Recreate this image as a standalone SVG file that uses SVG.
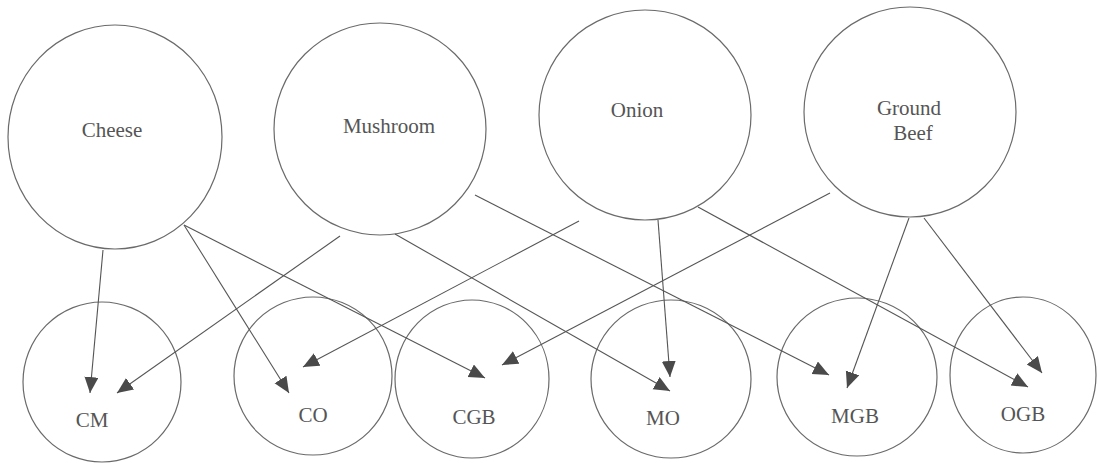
<svg xmlns="http://www.w3.org/2000/svg" width="1098" height="463" viewBox="0 0 1098 463">
<style>
.n{fill:#fff;stroke:#6a6a6a;stroke-width:1.2}
.t{font-family:"Liberation Serif","Times New Roman",serif;font-size:21px;fill:#555;text-anchor:middle}
.e{stroke:#555;stroke-width:1.1;fill:none;marker-end:url(#a)}
</style>
<defs>
<marker id="a" markerUnits="userSpaceOnUse" markerWidth="17" markerHeight="15" refX="16" refY="7" orient="auto">
<path d="M0,0 L16,7 L0,14 z" fill="#4a4a4a"/>
</marker>
</defs>
<rect width="1098" height="463" fill="#fff"/>
<g id="cheese"><ellipse class="n" cx="115" cy="137" rx="107" ry="112"/><text class="t" x="112" y="137">Cheese</text></g>
<g id="mushroom"><ellipse class="n" cx="380" cy="129" rx="106" ry="106"/><text class="t" x="389" y="133">Mushroom</text></g>
<g id="onion"><ellipse class="n" cx="645" cy="115" rx="106" ry="105"/><text class="t" x="637" y="117">Onion</text></g>
<g id="groundbeef"><ellipse class="n" cx="910" cy="112" rx="106" ry="105"/><text class="t" x="909" y="115">Ground</text><text class="t" x="913" y="140">Beef</text></g>
<g id="cm"><ellipse class="n" cx="102" cy="382" rx="79" ry="80"/><text class="t" x="92" y="427">CM</text></g>
<g id="co"><ellipse class="n" cx="313" cy="376" rx="79" ry="79"/><text class="t" x="313" y="422">CO</text></g>
<g id="cgb"><ellipse class="n" cx="472" cy="379" rx="77" ry="79"/><text class="t" x="474" y="424">CGB</text></g>
<g id="mo"><ellipse class="n" cx="671" cy="379" rx="80" ry="79"/><text class="t" x="663" y="425">MO</text></g>
<g id="mgb"><ellipse class="n" cx="857" cy="377" rx="80" ry="79"/><text class="t" x="855" y="423">MGB</text></g>
<g id="ogb"><ellipse class="n" cx="1023" cy="375" rx="73" ry="78"/><text class="t" x="1023" y="421">OGB</text></g>
<g id="edges">
<line class="e" x1="103" y1="250" x2="90" y2="393"/>
<line class="e" x1="340" y1="236" x2="117" y2="393"/>
<line class="e" x1="184" y1="225" x2="289" y2="393"/>
<line class="e" x1="184" y1="225" x2="485" y2="378"/>
<line class="e" x1="579" y1="221" x2="303" y2="367"/>
<line class="e" x1="830" y1="193" x2="502" y2="365"/>
<line class="e" x1="395" y1="234" x2="670" y2="391"/>
<line class="e" x1="475" y1="195" x2="829" y2="375"/>
<line class="e" x1="658" y1="220" x2="670" y2="377"/>
<line class="e" x1="698" y1="207" x2="1028" y2="387"/>
<line class="e" x1="909" y1="218" x2="847" y2="388"/>
<line class="e" x1="924" y1="218" x2="1042" y2="373"/>
</g>
</svg>
